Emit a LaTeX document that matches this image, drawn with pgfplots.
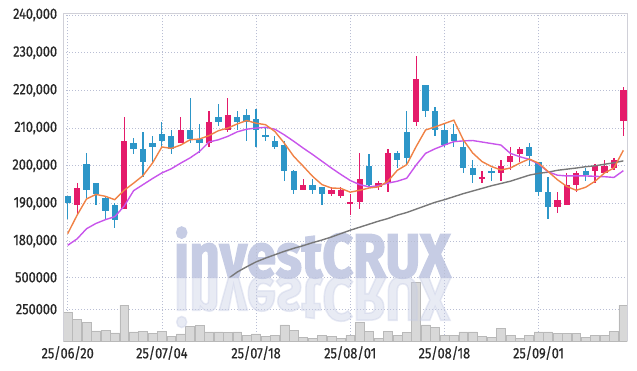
\documentclass[border=0pt]{standalone}
\usepackage{pgfplots}
\pgfplotsset{compat=1.18}
\usepackage{pgfplotstable}
\usepackage{fontspec}
\setmainfont{Fira Sans}
\newfontfamily\tickfont{Fira Sans}[FakeStretch=0.85, FakeBold=0.6]
\newfontfamily\wmfont{Fira Sans}[FakeStretch=0.86, FakeBold=2.5]

\definecolor{upred}{RGB}{228,27,106}
\definecolor{downblue}{RGB}{45,150,200}
\definecolor{mafive}{RGB}{240,130,70}
\definecolor{maten}{RGB}{200,85,235}
\definecolor{masixty}{RGB}{120,120,120}
\definecolor{volfill}{RGB}{216,216,216}
\definecolor{voledge}{RGB}{185,185,185}
\definecolor{gridc}{RGB}{185,190,212}
\definecolor{framec}{RGB}{208,208,216}
\definecolor{wmc}{RGB}{198,204,228}
\definecolor{labeltext}{RGB}{40,40,40}

\pgfplotstableread{
i o h l c
1 189500 195500 187000 194000
6 188500 213000 188500 206500
12 206000 213000 206000 209500
15 206000 214500 205000 211500
17 209500 218000 209000 213500
25 193500 196500 193500 195000
28 192500 194500 192000 193500
29 192000 194500 191500 193500
30 190000 192500 187000 190500
31 190500 203500 188500 196500
33 194500 196000 193500 195500
34 195500 204500 193000 203500
37 211500 229000 210500 223000
44 196500 198500 195500 197000
46 198000 201500 196000 200000
47 201000 205000 199000 202500
48 203000 205000 201000 204500
52 189000 193000 187500 191000
53 189500 198000 189500 195000
54 195000 198500 193000 198000
56 198500 200500 195500 200000
57 198000 201500 198000 200000
58 199500 202000 199000 201500
59 212000 221000 208000 220000
}\up

\pgfplotstableread{
i o h l c
0 192000 192000 186000 190000
2 200500 203500 191500 193500
3 195500 195500 189500 192500
4 191500 192000 185500 188000
5 189500 190000 183500 185500
7 206000 207500 203000 204500
8 204500 209000 197000 201000
9 206000 208000 201000 205000
10 208500 211500 205000 206500
11 208000 209500 203000 204500
13 209500 218000 206000 207000
14 207000 211000 203500 206000
16 213000 216500 210500 211500
18 213000 214500 209500 211500
19 213500 215000 206500 211500
20 212500 215000 205000 209500
21 208000 210000 206500 207800
22 206500 208000 204500 205000
23 205500 206500 196000 198500
24 198500 199000 192500 193500
26 195000 196500 192500 193500
27 194500 194500 189500 192500
32 200000 203000 194500 195000
35 203500 204000 199500 201500
36 209000 214500 200500 202000
38 221500 221500 213000 214500
39 214500 215500 208000 209500
40 209500 211000 205000 205500
41 208500 211000 205000 206500
42 205000 207000 198000 199500
43 199500 201500 195500 197500
45 198500 199500 196000 198000
49 205000 206000 200000 202500
50 201000 201000 192000 193000
51 193000 197000 186000 189000
55 198500 199500 196000 197500
}\down

\pgfplotstableread{
i v m5 m10
0 226000 182000 178900
1 171000 186900 180600
2 147000 191200 183300
3 79000 192400 184700
4 84000 191900 185700
5 63000 191000 186500
6 282000 193500 189300
7 71000 195400 193400
8 76000 197400 195000
9 61000 200700 196600
10 76000 205000 198100
11 37000 204600 199200
12 55000 205500 200700
13 116000 206900 202100
14 124000 207100 203800
15 71000 208000 206300
16 71000 209300 206900
17 66000 210000 207800
18 71000 211100 209000
19 45000 212000 209700
20 55000 211300 210000
21 37000 210900 210200
22 45000 209100 209700
23 126000 206000 208200
24 84000 202500 206500
25 29000 199900 204700
26 21000 197200 203000
27 45000 195000 201200
28 37000 194100 199400
29 21000 194000 197700
30 45000 193000 196100
31 147000 193500 195000
32 76000 194100 194400
33 21000 194400 194700
34 76000 195900 195400
35 45000 198800 195900
36 68000 200300 196700
37 463000 205100 200200
38 126000 209500 203300
39 108000 210300 204500
40 45000 211200 205500
41 45000 212100 206400
42 71000 206900 206600
43 71000 203400 206700
44 37000 201100 206300
45 29000 199800 205900
46 100000 198900 205500
47 45000 199400 203300
48 21000 200700 202400
49 45000 201800 201700
50 71000 200700 200500
51 71000 198500 198400
52 61000 196300 197500
53 61000 194500 197300
54 61000 193500 197300
55 29000 194300 197300
56 45000 195900 197200
57 45000 198100 197100
58 76000 199400 196900
59 282000 204100 198700
}\daily

\pgfplotstableread{
i m60
17 170000
18 171800
19 173200
20 174500
21 175500
22 176400
23 177300
24 178100
25 178800
26 179600
27 180300
28 181100
29 182000
30 182900
31 183700
32 184500
33 185300
34 186000
35 186900
36 187600
37 188500
38 189400
39 190300
40 191000
41 191800
42 192600
43 193300
44 194000
45 194700
46 195300
47 195900
48 196700
49 197500
50 198000
51 198300
52 198800
53 199100
54 199400
55 199750
56 200000
57 200400
58 200800
59 201300
}\masixtytab

\pgfplotsset{
  panel/.style={
    scale only axis, width=564pt,
    xmin=-0.467, xmax=59.42,
    xtick={0,10,20,30,40,50},
    scaled y ticks=false, scaled x ticks=false,
    grid=major,
    major grid style={gridc, line width=0.7pt, dash pattern=on 1pt off 2pt},
    tick style={draw=none},
    axis line style={draw=none},
    yticklabel style={font=\tickfont\fontsize{15}{15}\selectfont, text=labeltext, inner sep=0pt, xshift=-6pt, anchor=east},
    xticklabel style={font=\tickfont\fontsize{15}{15}\selectfont, text=labeltext, inner sep=0pt, yshift=-5pt, anchor=north},
  },
  wick/.style={mark=none, draw=none, forget plot,
    error bars/.cd, y dir=both, y explicit, error mark=none,
    error bar style={line width=1.2pt, draw=#1, solid}},
  body/.style={mark=none, draw=none, forget plot,
    error bars/.cd, y dir=both, y explicit, error mark=none,
    error bar style={line width=6.3pt, draw=#1, solid}},
}

\begin{document}
\begin{tikzpicture}[x=1pt,y=1pt]
\useasboundingbox (0,0) rectangle (637,-370);
% watermark
\node[anchor=base west, inner sep=0pt, text=wmc, font=\wmfont\bfseries\fontsize{62}{62}\selectfont] at (174,-277.3) {investCRUX};

\begin{axis}[panel, name=price,
  at={(63.3pt,-13.3pt)}, anchor=north west,
  height=264pt,
  ymin=170410, ymax=240450,
  xticklabels={},
  ytick={180000,190000,200000,210000,220000,230000,240000},
  yticklabels={{180,000},{190,000},{200,000},{210,000},{220,000},{230,000},{240,000}},
]
\addplot[wick=downblue] table[x=i, y expr={(\thisrow{h}+\thisrow{l})/2}, y error expr={(\thisrow{h}-\thisrow{l})/2}] {\down};
\addplot[body=downblue] table[x=i, y expr={(\thisrow{o}+\thisrow{c})/2}, y error expr={max(abs(\thisrow{o}-\thisrow{c})/2,180)}] {\down};
\addplot[wick=upred] table[x=i, y expr={(\thisrow{h}+\thisrow{l})/2}, y error expr={(\thisrow{h}-\thisrow{l})/2}] {\up};
\addplot[body=upred] table[x=i, y expr={(\thisrow{o}+\thisrow{c})/2}, y error expr={max(abs(\thisrow{o}-\thisrow{c})/2,180)}] {\up};
\addplot[masixty, line width=1.4pt, mark=none] table[x=i, y=m60] {\masixtytab};
\addplot[maten, line width=1.4pt, mark=none] table[x=i, y=m10] {\daily};
\addplot[mafive, line width=1.4pt, mark=none] table[x=i, y=m5] {\daily};
\end{axis}

\begin{axis}[panel, name=vol,
  at={(63.3pt,-277.3pt)}, anchor=north west,
  height=63.7pt,
  ymin=0, ymax=500000,
  ytick={250000,500000},
  yticklabels={250000,500000},
  xticklabels={25/06/20,25/07/04,25/07/18,25/08/01,25/08/18,25/09/01},
]
\addplot[ybar, bar width=8.9pt, fill=volfill, draw=voledge, line width=0.5pt] table[x=i, y=v] {\daily};
\end{axis}

% reflection of the watermark
\node[anchor=base west, inner sep=0pt, text=wmc, opacity=0.4, yscale=-1, transform shape, font=\wmfont\bfseries\fontsize{62}{62}\selectfont] at (174,-277.3) {investCRUX};

% frame
\draw[framec, line width=0.9pt] (price.south west) -- (price.north west) -- (price.north east) -- (price.south east);
\draw[framec, line width=0.9pt] (vol.north west) -- (vol.south west);
\draw[framec, line width=0.9pt] (vol.north east) -- (vol.south east);
\end{tikzpicture}
\end{document}
